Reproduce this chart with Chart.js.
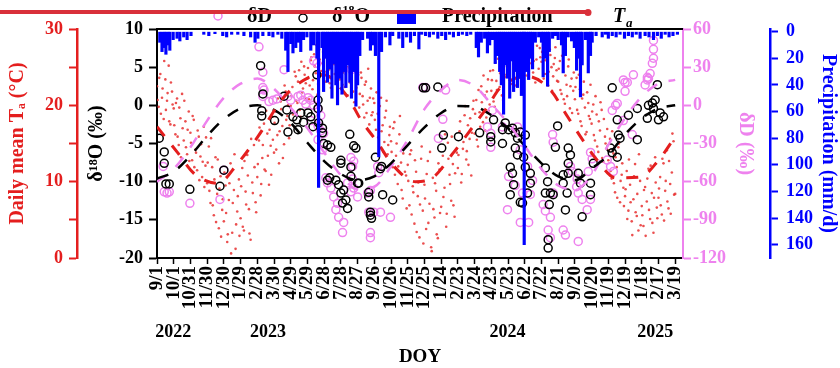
<!DOCTYPE html>
<html>
<head>
<meta charset="utf-8">
<title>Ta, precipitation and isotopes</title>
<script src="https://cdn.jsdelivr.net/npm/chart.js@4/dist/chart.umd.min.js"></script>
<style>
  html, body { margin: 0; padding: 0; background: #fff; }
</style>
</head>
<body>
<canvas id="isoChart" width="840" height="368"></canvas>
<script>
/*
 * Daily Ta, precipitation, dD and d18O, Sep 2022 - Mar 2025
 * x values are days counted from 2022-09-01
 */

// x axis: ticks every 30 days
const tickDays = [0, 30, 60, 90, 120, 150, 180, 210, 240, 270, 300, 330, 360, 390, 420, 450,
    480, 510, 540, 570, 600, 630, 660, 690, 720, 750, 780, 810, 840, 870, 900, 930];
const tickLabels = ['9/1', '10/1', '10/31', '11/30', '12/30', '1/29', '2/28', '3/30', '4/29', '5/29',
    '6/28', '7/28', '8/27', '9/26', '10/26', '11/25', '12/25', '1/24', '2/23', '3/24', '4/23', '5/23',
    '6/22', '7/22', '8/21', '9/20', '10/20', '11/19', '12/19', '1/18', '2/17', '3/19'];
const yearDays = [29, 199, 629, 894];
const yearLabels = ['2022', '2023', '2024', '2025'];

// daily mean air temperature in two interleaved passes (every 3rd day each)
const taStepDays = 3;
const taStartA = 0;
const taDailyA = [
    22.5, 19.8, 24.1, 21.0, 18.2, 23.4, 20.6, 25.2, 17.5, 21.8,
    19.6, 16.2, 20.9, 14.8, 18.3, 21.5, 15.4, 17.9, 13.6, 19.2,
    16.4, 12.8, 18.1, 14.2, 11.5, 15.9, 13.3, 10.6, 17.2, 12.1,
    9.8, 14.6, 7.2, 11.9, 5.6, 13.2, 8.4, 3.9, 10.7, 6.3,
    4.8, 9.5, 2.1, 7.6, 12.4, 3.3, 8.9, 1.2, 6.1, 10.3,
    5.2, 11.8, 3.6, 8.7, 13.5, 6.4, 2.4, 9.9, 14.8, 7.3,
    10.6, 15.4, 8.2, 13.1, 17.6, 11.4, 16.3, 9.6, 14.7, 18.5,
    13.8, 19.2, 16.1, 12.4, 20.5, 17.3, 14.9, 21.8, 18.6, 15.7,
    19.9, 22.4, 17.2, 23.8, 20.3, 24.6, 18.5, 21.7, 25.1, 22.9,
    23.5, 20.8, 25.9, 22.1, 26.7, 24.2, 21.4, 27.3, 23.9, 25.5,
    26.2, 23.1, 27.8, 24.7, 22.3, 26.9, 25.4, 28.1, 23.6, 27.2,
    25.8, 22.7, 27.4, 24.1, 21.3, 26.3, 23.5, 25.1, 20.4, 24.8,
    22.9, 19.7, 24.3, 21.2, 18.4, 23.1, 20.6, 17.5, 22.2, 19.1,
    20.3, 16.8, 18.9, 14.5, 21.0, 17.4, 15.2, 19.3, 13.6, 16.1,
    15.3, 11.9, 17.8, 13.4, 9.7, 16.2, 12.5, 7.8, 14.6, 10.8,
    12.2, 6.9, 14.1, 9.4, 4.5, 11.3, 8.1, 2.7, 13.0, 6.2,
    9.6, 3.8, 12.7, 7.1, 1.4, 10.5, 5.3, 8.8, 2.6, 11.6,
    6.7, 13.4, 9.2, 4.1, 15.1, 10.9, 7.5, 12.3, 5.4, 14.2,
    11.8, 16.6, 9.9, 14.3, 18.7, 12.9, 17.4, 15.6, 10.8, 19.5,
    16.3, 20.7, 14.6, 19.1, 22.5, 17.8, 21.3, 18.4, 23.4, 20.1,
    21.9, 24.6, 19.8, 23.2, 26.1, 22.4, 25.3, 20.7, 24.0, 26.8,
    24.5, 27.2, 22.8, 25.9, 28.3, 23.6, 26.4, 24.9, 27.7, 25.2,
    26.6, 23.9, 28.4, 25.5, 27.1, 24.3, 28.9, 26.0, 23.4, 27.5,
    25.7, 27.9, 24.1, 26.5, 22.6, 27.3, 25.0, 23.8, 26.2, 24.6,
    23.1, 25.8, 21.5, 24.4, 20.2, 22.7, 25.1, 19.6, 23.5, 21.9,
    20.8, 23.6, 18.9, 22.1, 17.3, 21.4, 19.7, 16.5, 20.3, 18.2,
    17.6, 20.1, 15.4, 18.8, 13.9, 16.7, 19.4, 12.6, 15.9, 14.3,
    12.8, 15.6, 10.4, 13.7, 8.6, 11.9, 14.5, 7.3, 10.9, 9.2,
    8.1, 11.4, 6.2, 9.6, 4.8, 7.7, 12.3, 5.5, 3.6, 10.1,
    6.8, 4.2, 9.3, 7.4, 11.7, 5.1, 8.5, 3.3, 13.2, 6.6,
    7.9, 10.6, 5.7, 12.4, 8.8, 14.1, 6.5, 9.7, 11.2, 15.3,
    8.4
];
const taStartB = 1;
const taDailyB = [
    20.7, 23.6, 18.9, 22.2, 25.8, 19.4, 21.6, 17.9, 23.0, 20.1,
    17.4, 20.3, 15.9, 19.7, 13.2, 17.0, 20.6, 14.5, 16.8, 12.7,
    15.1, 18.6, 11.9, 13.8, 16.7, 10.2, 14.9, 12.6, 9.3, 15.8,
    12.5, 8.8, 15.7, 6.9, 10.3, 4.7, 12.9, 9.1, 2.8, 7.7,
    11.2, 5.9, 3.1, 9.8, 0.6, 7.2, 13.6, 4.4, 8.1, 2.9,
    9.4, 4.1, 12.7, 7.0, 10.8, 3.2, 15.6, 8.5, 11.9, 6.0,
    12.3, 17.1, 9.7, 14.8, 11.6, 19.3, 13.4, 16.8, 10.9, 15.5,
    17.7, 14.2, 20.9, 16.6, 19.5, 13.1, 22.6, 18.1, 20.0, 17.4,
    21.2, 18.8, 24.4, 20.6, 23.1, 19.4, 25.7, 22.2, 24.0, 20.9,
    24.9, 22.6, 26.3, 23.3, 25.1, 27.9, 22.8, 26.0, 24.5, 27.0,
    24.4, 27.5, 25.0, 22.9, 26.4, 28.4, 24.1, 25.8, 27.7, 23.4,
    26.8, 24.3, 22.4, 27.1, 25.0, 23.0, 26.1, 21.8, 24.6, 22.3,
    24.0, 21.5, 23.6, 20.1, 22.7, 19.0, 24.8, 21.0, 18.7, 20.9,
    18.1, 21.7, 15.8, 19.9, 16.6, 13.9, 18.4, 20.6, 14.8, 17.2,
    13.9, 17.0, 10.9, 15.0, 12.0, 18.6, 8.9, 13.7, 11.3, 6.5,
    10.1, 13.6, 5.7, 8.6, 12.8, 3.4, 9.9, 7.0, 14.6, 1.9,
    7.8, 11.0, 4.6, 13.9, 0.9, 6.4, 9.8, 3.1, 12.4, 5.9,
    11.7, 8.0, 16.2, 5.8, 13.0, 9.7, 15.9, 6.9, 11.1, 13.8,
    13.5, 17.9, 11.0, 15.2, 19.9, 14.0, 12.2, 18.3, 16.4, 20.6,
    18.9, 15.5, 22.0, 17.2, 20.4, 23.9, 16.7, 21.8, 19.3, 24.5,
    23.3, 20.5, 25.6, 22.0, 27.4, 24.2, 21.3, 26.5, 23.7, 25.1,
    26.1, 23.2, 27.9, 25.4, 22.6, 28.6, 24.7, 26.9, 23.9, 27.0,
    25.1, 28.0, 24.6, 26.8, 29.2, 25.8, 23.0, 27.8, 24.8, 26.3,
    27.0, 23.5, 25.9, 28.1, 24.4, 26.6, 21.9, 25.4, 27.6, 23.2,
    24.8, 22.0, 26.5, 20.8, 23.9, 21.2, 26.0, 22.5, 19.0, 24.3,
    22.4, 19.4, 24.0, 17.9, 20.9, 23.1, 16.2, 21.7, 18.6, 22.7,
    19.2, 16.1, 21.2, 14.6, 17.9, 20.4, 13.1, 18.2, 15.0, 16.9,
    14.1, 11.4, 16.6, 9.8, 13.2, 7.9, 15.0, 10.1, 12.4, 6.8,
    9.0, 5.1, 12.9, 7.3, 3.0, 10.7, 6.0, 8.4, 13.6, 4.3,
    5.6, 8.9, 2.9, 10.4, 6.3, 12.1, 4.6, 7.9, 9.9, 5.2,
    9.1, 6.9, 13.0, 4.9, 10.1, 7.4, 12.7, 5.8, 16.3, 8.3
];

// seasonal fits (dashed curves)
const taFitDays = [0, 37, 66, 109, 145, 181, 228, 271, 299, 342, 366, 396, 423, 464,
    496, 532, 563, 593, 616, 665, 706, 737, 760, 790, 823, 867, 900, 930];
const taFitVals = [17.2, 13.8, 11.1, 9.8, 12.4, 15.9, 21.1, 23.6, 24.0, 21.1, 18.1, 15.1, 12.2, 10.0,
    10.6, 13.8, 16.8, 19.8, 22.3, 23.8, 22.0, 18.5, 15.9, 12.8, 10.5, 10.6, 12.8, 15.9];
const fitDays = [0, 30, 60, 90, 120, 150, 180, 210, 240, 270, 300, 330, 360, 390, 420, 450,
    480, 510, 540, 570, 600, 630, 660, 690, 720, 750, 780, 810, 840, 870, 900, 930];
const d18oFitVals = [-9.6, -8.7, -6.6, -4.0, -1.8, -0.4, 0, -0.6, -2.3, -4.9, -7.3, -9.0, -9.8, -9.3, -7.6, -5.2,
    -2.9, -1.0, -0.1, -0.2, -1.3, -3.0, -5.3, -7.6, -9.3, -9.8, -8.3, -6.5, -3.8, -1.7, -0.4, 0];
const dDFitVals = [-60, -50, -33, -12, 6, 17, 21, 13, -2, -18, -37, -55, -66, -64, -48, -27,
    -3, 12, 20, 15, 1, -14, -32, -50, -63, -66, -55, -31, -10, 7, 17, 20];

// event samples [day, permil]
const d18oSamples = [
    [4, -4.3], [13, -6.1], [13, -7.6], [16, -10.3], [22, -10.3], [59, -11.0], [113, -10.6], [120, -8.5],
    [186, 5.2], [190, 1.5], [188, -0.7], [188, -1.4], [211, -2.0], [228, 1.2], [233, -0.6], [235, -3.5],
    [244, -1.5], [251, -1.9], [253, -3.2], [258, -1.0], [263, -2.2], [271, -1.0], [276, -1.5], [280, -2.8],
    [287, 4.0], [289, 0.7], [289, -0.4], [290, -2.3], [297, -3.0], [297, -3.6], [299, -5.0], [306, -5.2],
    [306, -9.8], [312, -5.5], [346, -3.8], [353, -5.3], [357, -5.6], [330, -7.2], [330, -7.6], [348, -8.1],
    [310, -9.5], [321, -9.8], [326, -10.4], [335, -11.1], [330, -11.5], [339, -12.4], [333, -12.8], [342, -13.5],
    [360, -10.2], [362, -10.2], [348, -9.3], [392, -6.8], [401, -8.3], [403, -8.0], [380, -11.4], [380, -12.0],
    [383, -14.0], [383, -14.4], [385, -14.8], [405, -11.7], [423, -12.4],
    [478, 2.3], [482, 2.3], [504, 2.4], [514, -3.9], [511, -5.6], [541, -4.1], [579, -3.6], [599, -4.1],
    [599, -4.8], [604, -1.9], [620, -3.2], [625, -2.3], [631, -3.2], [638, -3.0], [643, -3.6], [652, -3.5],
    [661, -3.9], [647, -4.3], [643, -5.6], [647, -6.5], [658, -6.8], [634, -8.1], [638, -8.9], [640, -10.4],
    [661, -8.1], [670, -8.9], [670, -10.2], [665, -11.5], [652, -12.7], [634, -11.7], [620, -5.0], [656, -12.8],
    [697, -8.2], [701, -10.0], [697, -11.5], [706, -11.5], [711, -11.7], [704, -13.0], [702, -17.6], [702, -18.7],
    [719, -2.7], [715, -5.5], [738, -5.6], [742, -6.5], [738, -7.6], [738, -8.9], [729, -9.1], [729, -10.2],
    [736, -11.5], [733, -13.7], [756, -8.9], [760, -10.2], [763, -14.6], [778, -10.2], [778, -11.7], [783, -7.6],
    [814, -5.6], [817, -6.2], [826, -6.8], [817, 2.3], [826, -1.9], [828, -3.9], [831, -4.3], [846, -1.3],
    [862, -4.5], [862, -0.4], [882, 0], [889, 0.3], [894, 0.7], [898, 2.7], [891, -0.4], [903, -1.0],
    [909, -1.5], [900, -1.9], [880, -1.7]
];
const dDSamples = [
    [13, -68], [18, -69], [22, -68], [11, -48], [59, -77], [113, -74], [120, -51],
    [183, 46], [190, 26], [190, 14], [192, 12], [190, 7], [201, 3], [208, 4], [215, 5], [228, 28],
    [235, 7], [240, 4], [253, 7], [258, 8], [262, 4], [267, 1], [271, 6], [276, 4], [281, 35], [287, 33],
    [281, 0], [289, -3], [294, -8], [276, -12], [289, -16], [299, -22], [294, -20], [289, -27], [297, -35],
    [349, 28], [303, -57], [306, -61], [312, -65], [317, -72], [324, -77], [321, -82], [326, -88], [335, -92],
    [333, -100], [342, -61], [348, -68], [353, -65], [360, -72], [351, -58], [348, -41], [353, -44], [351, -48],
    [378, -69], [383, -67], [380, -84], [389, -84], [401, -84], [383, -100], [383, -104], [419, -88],
    [396, -48], [398, -53],
    [477, 14], [482, 14], [518, 12], [513, -11], [505, -26], [593, -17], [599, -22], [599, -33], [602, -4],
    [620, -17], [647, -17], [652, -35], [629, -82], [652, -92], [667, -92], [631, -56], [643, -63], [656, -69],
    [665, -48], [674, -59], [670, -70], [693, -78], [706, -88], [697, -83], [711, -69], [702, -98], [706, -104],
    [729, -98], [733, -102], [710, -23], [711, -29], [742, -48], [745, -52], [753, -64], [756, -69], [754, -58],
    [763, -74], [778, -74], [772, -82], [756, -107], [778, -37], [774, -52], [781, -42], [808, -43], [814, -48],
    [819, -52], [817, -4], [823, 0], [826, 1.5], [837, -12], [853, -23], [840, 11], [840, 18], [855, 24],
    [876, 16], [880, 20], [882, 21], [885, 25], [880, 22], [889, 33], [891, 37], [891, 44], [891, 51],
    [837, 20], [844, 18]
];

// daily precipitation (mm/d)
const precipDays = [5, 9, 13, 16, 20, 23, 29, 36, 41, 48, 54, 61,
    84, 93, 104, 118, 125, 134, 145, 156, 168, 176, 181, 190,
    201, 208, 217, 224, 231, 235, 240, 244, 249, 254, 258, 263, 269, 276, 281, 287, 290,
    296, 299, 303, 306, 310, 314, 317, 321, 324, 328, 332, 335, 339, 342, 346, 349, 353, 357, 360, 364, 369,
    378, 383, 387, 392, 398, 403, 410, 418, 423, 434, 441, 448, 455, 462, 470, 475,
    482, 489, 496, 504, 511, 518, 525, 532, 541, 548, 556, 563,
    573, 577, 582, 588, 593, 597, 602, 607, 611, 615, 618, 622, 625, 629, 633, 636, 640, 643, 647, 651,
    654, 658, 659, 663, 667, 670, 674, 679,
    685, 690, 693, 697, 701, 704, 710, 715, 720, 726, 729, 733, 738, 744, 749, 753, 756, 760, 763, 769,
    774, 778, 781, 788,
    799, 805, 810, 817, 824, 831, 839, 846, 853, 860, 867, 876, 883, 891, 898, 905, 912, 919, 926, 934];
const precipMm = [8, 15, 12, 17, 10, 14, 6, 5, 7, 4, 6, 3,
    2, 3, 1.5, 3, 4, 2, 2, 3, 4, 8, 5, 3,
    3, 4, 2, 5, 14, 30, 9, 16, 12, 8, 15, 6, 4, 14, 10, 20, 117,
    12, 45, 20, 38, 28, 50, 24, 40, 55, 35, 47, 30, 42, 25, 38, 50, 30, 56, 40, 18, 6,
    5, 14, 10, 18, 94, 15, 4, 10, 3, 5, 12, 4, 8, 3, 13, 2,
    3, 4, 2, 5, 3, 6, 2, 4, 3, 2, 3, 2,
    12, 19, 8, 5, 16, 10, 6, 24, 18, 30, 40, 62, 25, 35, 50, 22, 45, 30, 42, 35,
    48, 25, 160, 30, 36, 20, 28, 8,
    4, 8, 34, 20, 41, 15, 5, 3, 6, 10, 31, 18, 4, 7, 12, 29, 20, 49, 25, 6,
    31, 18, 8, 3,
    4, 2, 5, 3, 4, 2, 5, 3, 4, 2, 5, 3, 4, 6, 3, 5, 2, 4, 3, 2];

// colours and fonts
const RED = '#e41e1e';
const PINK = '#ee82ee';
const BLUE = '#0000ff';
const serif = "'Liberation Serif', 'Times New Roman', serif";
const tickFont = { family: serif, size: 18, weight: 'bold' };
const titleFont = { family: serif, size: 20, weight: 'bold' };

/*
 * legend + top frame + the red stroke across the header
 */
const decorPlugin = {
    id: 'decor',
    afterDraw(chart) {
        const { ctx, chartArea } = chart;
        ctx.save();
        // top edge of the frame
        ctx.strokeStyle = '#000';
        ctx.lineWidth = 2;
        ctx.beginPath();
        ctx.moveTo(chartArea.left - 1, chartArea.top);
        ctx.lineTo(chartArea.right, chartArea.top);
        ctx.stroke();

        // legend
        ctx.lineWidth = 1.5;
        ctx.strokeStyle = PINK;
        ctx.beginPath(); ctx.arc(218, 16, 4, 0, Math.PI * 2); ctx.stroke();
        ctx.strokeStyle = '#000';
        ctx.beginPath(); ctx.arc(303, 18, 4, 0, Math.PI * 2); ctx.stroke();
        ctx.fillStyle = BLUE;
        ctx.fillRect(397, 12, 19, 12);

        ctx.fillStyle = '#000';
        ctx.textBaseline = 'alphabetic';
        ctx.font = `bold 20px ${serif}`;
        ctx.fillText('\u03b4D', 247, 22);
        ctx.fillText('\u03b4', 332, 22);
        const w = ctx.measureText('\u03b4').width;
        ctx.font = `bold 12px ${serif}`;
        ctx.fillText('18', 332 + w, 14);
        const w2 = ctx.measureText('18').width;
        ctx.font = `bold 20px ${serif}`;
        ctx.fillText('O', 332 + w + w2, 22);
        ctx.fillText('Precipitation', 442, 22);
        ctx.font = `italic bold 20px ${serif}`;
        ctx.fillText('T', 613, 22);
        ctx.font = `italic bold 13px ${serif}`;
        ctx.fillText('a', 626, 27);

        // red stroke running in from the left edge, ending in the Ta marker
        ctx.strokeStyle = '#d9303a';
        ctx.lineWidth = 4;
        ctx.beginPath(); ctx.moveTo(0, 12); ctx.lineTo(588, 12); ctx.stroke();
        ctx.fillStyle = '#d9303a';
        ctx.beginPath(); ctx.arc(588, 12.5, 3.5, 0, Math.PI * 2); ctx.fill();
        ctx.restore();
    }
};

const pairs = (xs, ys) => xs.map((x, i) => ({ x: x, y: ys[i] }));
const taPoints = taDailyA.map((v, i) => ({ x: taStartA + i * taStepDays, y: v }))
    .concat(taDailyB.map((v, i) => ({ x: taStartB + i * taStepDays, y: v })));

new Chart(document.getElementById('isoChart'), {
    type: 'scatter',
    data: {
        datasets: [
            {
                label: 'Ta',
                type: 'scatter',
                data: taPoints,
                yAxisID: 'yT',
                pointRadius: 1.3,
                pointBorderWidth: 0,
                backgroundColor: 'rgba(232, 48, 48, 0.85)',
                order: 7
            },
            {
                label: 'dD',
                type: 'scatter',
                data: dDSamples.map(p => ({ x: p[0], y: p[1] })),
                yAxisID: 'yD',
                pointRadius: 4,
                pointBorderWidth: 1.5,
                borderColor: PINK,
                backgroundColor: 'transparent',
                order: 6
            },
            {
                label: 'd18O',
                type: 'scatter',
                data: d18oSamples.map(p => ({ x: p[0], y: p[1] })),
                yAxisID: 'y',
                pointRadius: 4,
                pointBorderWidth: 1.5,
                borderColor: '#000',
                backgroundColor: 'transparent',
                order: 5
            },
            {
                label: 'dD fit',
                type: 'line',
                data: pairs(fitDays, dDFitVals),
                yAxisID: 'yD',
                borderColor: PINK,
                borderWidth: 2.5,
                borderDash: [12, 12],
                pointRadius: 0,
                cubicInterpolationMode: 'monotone',
                fill: false,
                order: 4
            },
            {
                label: 'd18O fit',
                type: 'line',
                data: pairs(fitDays, d18oFitVals),
                yAxisID: 'y',
                borderColor: '#000',
                borderWidth: 2.5,
                borderDash: [12, 12],
                pointRadius: 0,
                cubicInterpolationMode: 'monotone',
                fill: false,
                order: 3
            },
            {
                label: 'Ta fit',
                type: 'line',
                data: pairs(taFitDays, taFitVals),
                yAxisID: 'yT',
                borderColor: RED,
                borderWidth: 3,
                borderDash: [12, 12],
                pointRadius: 0,
                cubicInterpolationMode: 'monotone',
                fill: false,
                order: 2
            },
            {
                label: 'Precipitation',
                type: 'bar',
                data: pairs(precipDays, precipMm),
                yAxisID: 'yP',
                backgroundColor: BLUE,
                barThickness: 2.5,
                grouped: false,
                order: 1
            }
        ]
    },
    options: {
        responsive: false,
        animation: false,
        events: [],
        layout: { padding: { top: 29, left: 0, right: 0, bottom: 0 } },
        plugins: {
            legend: { display: false },
            tooltip: { enabled: false }
        },
        scales: {
            x: {
                type: 'linear',
                position: 'bottom',
                weight: 0,
                min: 0,
                max: 944,
                offset: false,
                afterBuildTicks: s => { s.ticks = tickDays.map(v => ({ value: v })); },
                afterFit: s => { s.height = 60; },
                ticks: {
                    autoSkip: false,
                    minRotation: 90,
                    maxRotation: 90,
                    padding: 2,
                    color: '#000',
                    font: { family: serif, size: 19, weight: 'bold' },
                    callback: (v, i) => tickLabels[i]
                },
                grid: { offset: false, drawOnChartArea: false, drawTicks: true, tickLength: 6, tickColor: '#000', tickWidth: 1.5 },
                border: { color: '#000', width: 2 }
            },
            xYear: {
                type: 'linear',
                position: 'bottom',
                weight: 1,
                min: 0,
                max: 944,
                afterBuildTicks: s => { s.ticks = yearDays.map(v => ({ value: v })); },
                afterFit: s => { s.height = 50; },
                ticks: {
                    autoSkip: false,
                    minRotation: 0,
                    maxRotation: 0,
                    padding: 4,
                    color: '#000',
                    font: tickFont,
                    callback: (v, i) => yearLabels[i]
                },
                grid: { display: false, drawTicks: false },
                border: { display: false },
                title: { display: true, text: 'DOY', color: '#000', font: { family: serif, size: 19, weight: 'bold' }, padding: { top: 0, bottom: 0 } }
            },
            yT: {
                type: 'linear',
                position: 'left',
                weight: 1,
                min: 0,
                max: 30,
                afterBuildTicks: s => { s.ticks = [0, 5, 10, 15, 20, 25, 30].map(v => ({ value: v })); },
                afterFit: s => { s.width = 77; },
                ticks: { color: RED, font: tickFont, padding: 6, callback: v => (v % 10 === 0 ? v : '') },
                grid: { drawOnChartArea: false, tickLength: 8, tickColor: RED, tickWidth: 2 },
                border: { color: RED, width: 2.5 },
                title: { display: true, text: 'Daily mean T\u2090 (\u00b0C)', color: RED, font: titleFont, padding: { top: 6, bottom: 0 } }
            },
            y: {
                type: 'linear',
                position: 'left',
                weight: 0,
                min: -20,
                max: 10,
                afterBuildTicks: s => { s.ticks = [-20, -15, -10, -5, 0, 5, 10].map(v => ({ value: v })); },
                afterFit: s => { s.width = 80; },
                ticks: { color: '#000', font: tickFont, padding: 6 },
                grid: { drawOnChartArea: false, tickLength: 8, tickColor: '#000', tickWidth: 2 },
                border: { color: '#000', width: 2 },
                title: { display: true, text: '\u03b4\u00b9\u2078O (\u2030)', color: '#000', font: titleFont, padding: { top: 8, bottom: 0 } }
            },
            yD: {
                type: 'linear',
                position: 'right',
                weight: 0,
                min: -120,
                max: 60,
                afterBuildTicks: s => { s.ticks = [-120, -90, -60, -30, 0, 30, 60].map(v => ({ value: v })); },
                afterFit: s => { s.width = 87; },
                ticks: { color: PINK, font: tickFont, padding: 2 },
                grid: { drawOnChartArea: false, tickLength: 8, tickColor: PINK, tickWidth: 2 },
                border: { color: PINK, width: 2 },
                title: { display: true, text: '\u03b4D (\u2030)', color: PINK, font: titleFont, padding: { top: 13, bottom: 0 } }
            },
            yP: {
                type: 'linear',
                position: 'right',
                weight: 1,
                reverse: true,
                min: -2,
                max: 170,
                afterBuildTicks: s => { s.ticks = [0, 10, 20, 30, 40, 50, 60, 70, 80, 90, 100, 110, 120, 130, 140, 150, 160].map(v => ({ value: v })); },
                afterFit: s => { s.width = 70; },
                ticks: { color: BLUE, font: tickFont, padding: 8, callback: v => (v % 20 === 0 ? v : '') },
                grid: { drawOnChartArea: false, tickLength: 8, tickColor: BLUE, tickWidth: 2 },
                border: { color: BLUE, width: 2.5 },
                title: { display: true, text: 'Precipitation (mm/d)', color: BLUE, font: titleFont, padding: { top: 0, bottom: 0 } }
            }
        }
    },
    plugins: [decorPlugin]
});
</script>
</body>
</html>
